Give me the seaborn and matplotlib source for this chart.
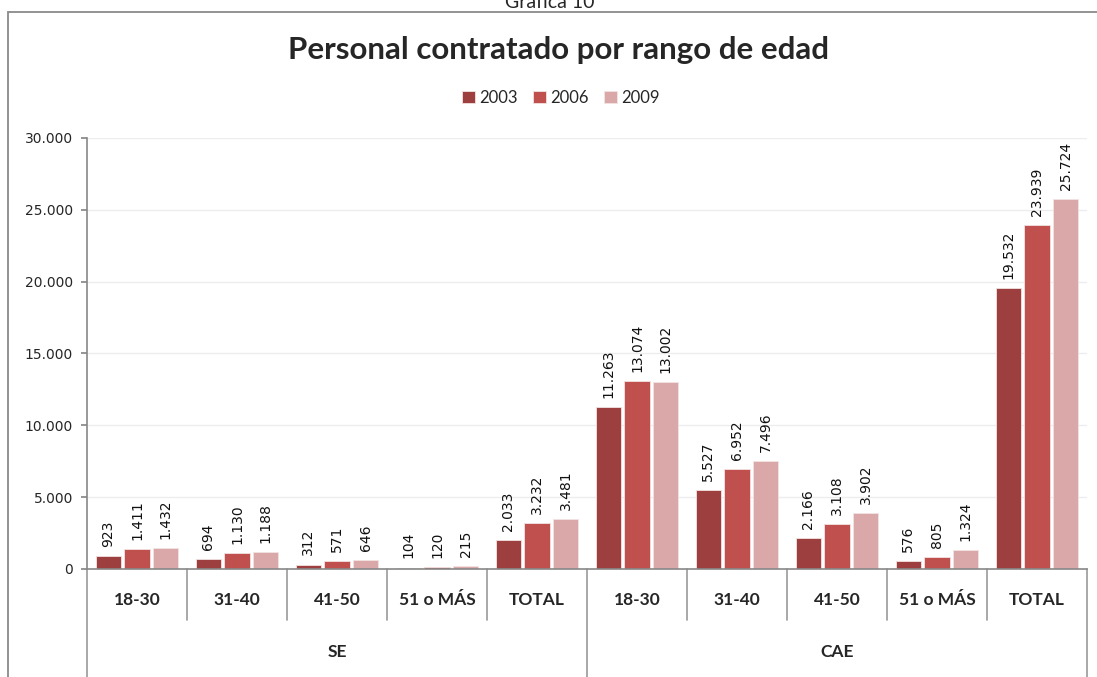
import matplotlib
matplotlib.use("Agg")
import matplotlib.pyplot as plt
from matplotlib.patches import Rectangle
import seaborn as sns
import pandas as pd

sns.set_theme(style="white")
plt.rcParams["font.family"] = ["DejaVu Sans"]

# ------------------------------
# data
# ------------------------------
groups = ["SE"] * 5 + ["CAE"] * 5
ranges = ["18-30", "31-40", "41-50", "51 o MÁS", "TOTAL"] * 2
years = ["2003", "2006", "2009"]
v2003 = [923, 694, 312, 104, 2033, 11263, 5527, 2166, 576, 19532]
v2006 = [1411, 1130, 571, 120, 3232, 13074, 6952, 3108, 805, 23939]
v2009 = [1432, 1188, 646, 215, 3481, 13002, 7496, 3902, 1324, 25724]
colors = ["#9E3F3F", "#C0504D", "#DAA8A9"]

cats = [g + " " + r for g, r in zip(groups, ranges)]
rows = []
for year, vals in zip(years, [v2003, v2006, v2009]):
    for c, v in zip(cats, vals):
        rows.append({"cat": c, "year": year, "value": v})
df = pd.DataFrame(rows)

fig = plt.figure(figsize=(10.97, 6.77), dpi=100)
ax = fig.add_axes([87 / 1097, 1 - 569 / 677, 1000 / 1097, 431 / 677])

sns.barplot(data=df, x="cat", y="value", hue="year", order=cats,
            hue_order=years, palette=colors, saturation=1, width=0.86,
            gap=0.12, edgecolor="#F3E3E3", linewidth=0.6, ax=ax)

for cont, vals in zip(ax.containers, [v2003, v2006, v2009]):
    labels = [f"{v:,}".replace(",", ".") for v in vals]
    ax.bar_label(cont, labels=labels, rotation=90, padding=6.5,
                 fontsize=10, color="#111111")

ax.set_xlim(-0.5, len(cats) - 0.5)
ax.set_ylim(0, 30000)
ax.set_yticks(range(0, 30001, 5000))
ax.set_yticklabels([f"{t:,}".replace(",", ".") for t in range(0, 30001, 5000)],
                   fontsize=10)
ax.yaxis.grid(True, color="#EDEDED", linewidth=1)
ax.set_axisbelow(True)
ax.tick_params(axis="y", left=True, length=4, color="#888888", pad=6)
ax.set_xticks([])
ax.set_xlabel("")
ax.set_ylabel("")
for s in ["top", "right"]:
    ax.spines[s].set_visible(False)
for s in ["left", "bottom"]:
    ax.spines[s].set_color("#888888")
    ax.spines[s].set_linewidth(1.2)

# ------------------------------
# two-level category axis
# ------------------------------
tr = ax.get_xaxis_transform()
for i in range(len(cats) + 1):
    x = i - 0.5
    bottom = -0.27 if i % 5 == 0 else -0.118
    ax.plot([x, x], [0, bottom], transform=tr, color="#999999",
            linewidth=1.2, clip_on=False)
for i, r in enumerate(ranges):
    ax.text(i, -0.072, r, transform=tr, ha="center", va="center",
            fontsize=12.5, fontweight="bold", family=["Lato", "DejaVu Sans"])
for k, g in enumerate(["SE", "CAE"]):
    ax.text(k * 5 + 2, -0.193, g, transform=tr, ha="center", va="center",
            fontsize=12.5, fontweight="bold", family=["Lato", "DejaVu Sans"])

# legend
handles, labs = ax.get_legend_handles_labels()
ax.legend(handles, labs, loc="center", bbox_to_anchor=(561 / 1097, 1 - 98 / 677),
          bbox_transform=fig.transFigure, ncol=3, frameon=False,
          handlelength=0.75, handleheight=0.75, handletextpad=0.3,
          columnspacing=0.9, prop={"family": "Lato", "size": 12})

# titles and frame
fig.text(558 / 1097, 1 - 50 / 677, "Personal contratado por rango de edad",
         ha="center", va="center", fontsize=22.5, fontweight="bold",
         family=["Lato", "DejaVu Sans"])
fig.text(550 / 1097, 1 - 8 / 677, "Gráfica 10", ha="center", va="baseline",
         fontsize=14, family=["Lato", "DejaVu Sans"])
fig.patches.append(Rectangle((8 / 1097, -0.1), 1.2, 1.1 - 12 / 677,
                             transform=fig.transFigure, fill=False,
                             edgecolor="#8A8A8A", linewidth=1.3))

fig.savefig("out.png", dpi=100)
plt.close(fig)
